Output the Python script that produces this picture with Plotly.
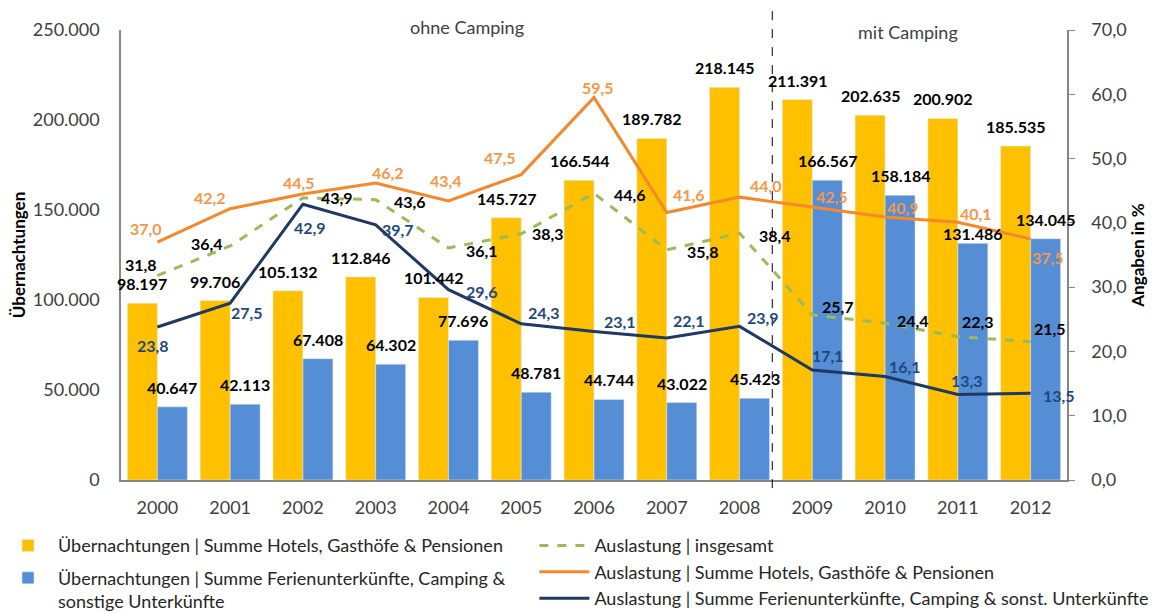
import plotly.graph_objects as go

years = ["2000", "2001", "2002", "2003", "2004", "2005", "2006", "2007", "2008", "2009", "2010", "2011", "2012"]
hotels_nights = [98197, 99706, 105132, 112846, 101442, 145727, 166544, 189782, 218145, 211391, 202635, 200902, 185535]
ferien_nights = [40647, 42113, 67408, 64302, 77696, 48781, 44744, 43022, 45423, 166567, 158184, 131486, 134045]
occ_total = [31.8, 36.4, 43.9, 43.6, 36.1, 38.3, 44.6, 35.8, 38.4, 25.7, 24.4, 22.3, 21.5]
occ_hotels = [37.0, 42.2, 44.5, 46.2, 43.4, 47.5, 59.5, 41.6, 44.0, 42.5, 40.9, 40.1, 37.5]
occ_ferien = [23.8, 27.5, 42.9, 39.7, 29.6, 24.3, 23.1, 22.1, 23.9, 17.1, 16.1, 13.3, 13.5]

name_hotels = "Übernachtungen | Summe Hotels, Gasthöfe & Pensionen"
name_ferien = "Übernachtungen | Summe Ferienunterkünfte, Camping &<br>sonstige Unterkünfte"
name_occ_total = "Auslastung | insgesamt"
name_occ_hotels = "Auslastung | Summe Hotels, Gasthöfe & Pensionen"
name_occ_ferien = "Auslastung | Summe Ferienunterkünfte, Camping & sonst. Unterkünfte"

# label offsets (pixels: dx right, dy down) - styling only
off_hotels = [(-11, -14), (-20, -11), (-4, -11), (12, -11), (-2, -21), (-21, -17), (4, -10),
              (22, -18), (26, -12), (20, -10), (18, -10), (18, -9), (17, 19)]
off_total = [(-16, -11), (-23, -3), (34, 0), (34, 2), (34, 3), (27, 0), (36, 1),
             (36, 2), (35, 2), (26, -8), (28, -3), (20, -15), (19, -13)]
off_ferien = [(-4, 18), (17, 9), (7, 23), (22, 5), (34, 2), (23, -11), (26, -10),
              (22, -17), (23, -9), (16, -15), (20, -10), (9, -14), (28, 2)]
bar_lift_hotels = [8] * 13
bar_lift_ferien = [8] * 13
bar_lift_ferien[11] = -2

FONT = "Lato"
YELLOW = "#FFC000"
BLUE = "#558ED5"
GREEN = "#9BBB59"
ORANGE = "#F5882A"
ORANGE_TXT = "#F79646"
NAVY = "#1F3864"
NAVY_TXT = "#1F497D"
AXIS = "#868686"
TICK = "#404040"


def de_int(v):
    return f"{v:,}".replace(",", ".")


def de_dec(v):
    return f"{v:.1f}".replace(".", ",")


fig = go.Figure()
fig.add_trace(go.Bar(x=years, y=hotels_nights, name=name_hotels, marker_color=YELLOW,
                     legend="legend", legendgroup="a"))
fig.add_trace(go.Bar(x=years, y=ferien_nights, name=name_ferien, marker_color=BLUE,
                     legend="legend", legendgroup="b"))
fig.add_trace(go.Scatter(x=years, y=occ_total, name=name_occ_total, yaxis="y2", mode="lines",
                         line=dict(color=GREEN, width=3, dash="dash"), legend="legend2"))
fig.add_trace(go.Scatter(x=years, y=occ_hotels, name=name_occ_hotels, yaxis="y2", mode="lines",
                         line=dict(color=ORANGE, width=3), legend="legend2"))
fig.add_trace(go.Scatter(x=years, y=occ_ferien, name=name_occ_ferien, yaxis="y2", mode="lines",
                         line=dict(color=NAVY, width=3), legend="legend2"))

ann = []
for i, yr in enumerate(years):
    # category axis: annotations are placed by category serial number i
    ann.append(dict(x=i, y=hotels_nights[i], xref="x", yref="y", text=de_int(hotels_nights[i]),
                    showarrow=False, xshift=-15, yshift=bar_lift_hotels[i],
                    xanchor="center", yanchor="bottom",
                    font=dict(family=FONT, size=16, color="black", weight="bold")))
    ann.append(dict(x=i, y=ferien_nights[i], xref="x", yref="y", text=de_int(ferien_nights[i]),
                    showarrow=False, xshift=15, yshift=bar_lift_ferien[i],
                    xanchor="center", yanchor="bottom",
                    font=dict(family=FONT, size=16, color="black", weight="bold")))
    for vals, offs, col in ((occ_hotels, off_hotels, ORANGE_TXT), (occ_total, off_total, "black"),
                            (occ_ferien, off_ferien, NAVY_TXT)):
        ann.append(dict(x=i, y=vals[i], xref="x", yref="y2", text=de_dec(vals[i]),
                        showarrow=False, xshift=offs[i][0], yshift=-offs[i][1],
                        xanchor="center", yanchor="middle",
                        font=dict(family=FONT, size=16, color=col, weight="bold")))

ann.append(dict(x=4.25, y=1.006, xref="x", yref="paper", text="ohne Camping", showarrow=False,
                xanchor="center", yanchor="middle",
                font=dict(family=FONT, size=18, color=TICK)))
ann.append(dict(x=10.31, y=0.996, xref="x", yref="paper", text="mit Camping", showarrow=False,
                xanchor="center", yanchor="middle",
                font=dict(family=FONT, size=18, color=TICK)))

fig.update_layout(
    width=1172, height=613,
    margin=dict(l=113, r=113, t=22, b=141, autoexpand=False),
    paper_bgcolor="white", plot_bgcolor="white",
    separators=",.",
    barmode="group", bargap=0.176, bargroupgap=0,
    font=dict(family=FONT, size=18, color=TICK),
    xaxis=dict(type="category", showline=True, linecolor=AXIS, linewidth=1.5, ticks="",
               showgrid=False, ticklabelstandoff=11, range=[-0.5, 12.5], automargin=False,
               tickfont=dict(family=FONT, size=18, color=TICK)),
    yaxis=dict(range=[0, 250000], tickvals=[0, 50000, 100000, 150000, 200000, 250000],
               tickformat=",d", showline=True, linecolor=AXIS, linewidth=1.5,
               ticks="outside", ticklen=16, tickcolor="rgba(0,0,0,0)", automargin=False,
               showgrid=False, zeroline=False,
               title=dict(text="<b>Übernachtungen</b>", standoff=9,
                          font=dict(family=FONT, size=17, color="black")),
               tickfont=dict(family=FONT, size=18, color=TICK)),
    yaxis2=dict(range=[0, 70], dtick=10, tickformat=".1f", overlaying="y", side="right",
                showline=True, linecolor=AXIS, linewidth=1.5, ticks="outside", ticklen=6,
                tickcolor=AXIS, showgrid=False, zeroline=False, ticklabelstandoff=13,
                automargin=False,
                title=dict(text="<b>Angaben in %</b>", standoff=5,
                           font=dict(family=FONT, size=17, color="black")),
                tickfont=dict(family=FONT, size=18, color=TICK)),
    legend=dict(x=-0.130, y=-0.105, xanchor="left", yanchor="top", orientation="v",
                valign="top", tracegroupgap=6, itemwidth=50,
                font=dict(family=FONT, size=18, color="#262626"), bgcolor="rgba(0,0,0,0)"),
    legend2=dict(x=0.437, y=-0.105, xanchor="left", yanchor="top", orientation="v",
                 itemwidth=50, tracegroupgap=0,
                 font=dict(family=FONT, size=18, color="#262626"), bgcolor="rgba(0,0,0,0)"),
    annotations=ann,
    shapes=[dict(type="line", xref="x", yref="paper", x0=8.45, x1=8.45, y0=-0.018, y1=1.049,
                 line=dict(color="black", width=1, dash="dash"))],
    showlegend=True,
)

fig.write_html("out.html")
